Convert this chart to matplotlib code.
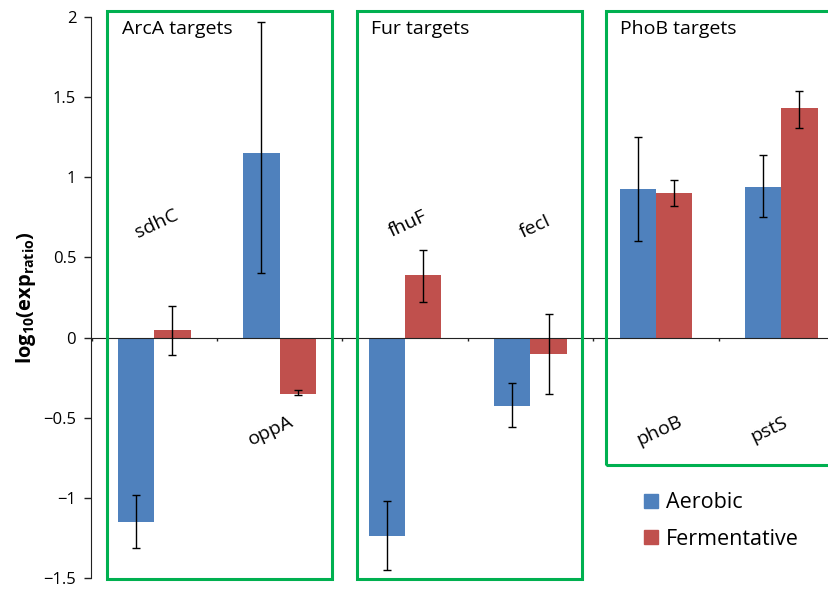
import matplotlib
matplotlib.use("Agg")
import matplotlib.pyplot as plt
from matplotlib.patches import Rectangle
import numpy as np

genes = ["sdhC", "oppA", "fhuF", "fecI", "phoB", "pstS"]
aerobic = [-1.15, 1.15, -1.24, -0.43, 0.93, 0.94]
aerobic_lo = [-1.31, 0.40, -1.45, -0.56, 0.60, 0.75]
aerobic_hi = [-0.98, 1.97, -1.02, -0.285, 1.25, 1.14]
ferment = [0.05, -0.35, 0.39, -0.10, 0.905, 1.43]
ferment_lo = [-0.11, -0.36, 0.22, -0.355, 0.823, 1.31]
ferment_hi = [0.20, -0.33, 0.545, 0.15, 0.983, 1.54]
groups = ["ArcA targets", "Fur targets", "PhoB targets"]
series = ["Aerobic", "Fermentative"]
yticks = [-1.5, -1, -0.5, 0, 0.5, 1, 1.5, 2]
ytick_labels = ["\u22121.5", "\u22121", "\u22120.5", "0", "0.5", "1", "1.5", "2"]

FONT = "Open Sans"
plt.rcParams["font.family"] = [FONT, "DejaVu Sans"]
plt.rcParams["mathtext.fontset"] = "custom"
plt.rcParams["mathtext.rm"] = FONT
plt.rcParams["mathtext.bf"] = FONT + ":bold"

BLUE = "#4F81BD"
RED = "#C0504D"
GREEN = "#00B050"

fig = plt.figure(figsize=(8.29, 5.90), dpi=100)
W, H = 829, 590
def fx(px):
    return px / W
def fy(py):
    return 1 - py / H

ax = fig.add_axes([fx(91.5), fy(578), fx(844) - fx(91.5), fy(17) - fy(578)])

x = np.arange(len(genes))
bw = 0.29
a = np.array(aerobic); f = np.array(ferment)
a_err = [a - np.array(aerobic_lo), np.array(aerobic_hi) - a]
f_err = [f - np.array(ferment_lo), np.array(ferment_hi) - f]
ax.bar(x - bw / 2, a, bw, color=BLUE, zorder=2, label=series[0])
ax.bar(x + bw / 2, f, bw, color=RED, zorder=2, label=series[1])
ekw = dict(fmt="none", ecolor="black", elinewidth=1.0, capsize=3.2, capthick=1.0, zorder=3)
ax.errorbar(x - bw / 2, a, yerr=a_err, **ekw)
ax.errorbar(x + bw / 2, f, yerr=f_err, **ekw)

ax.set_xlim(-0.5, len(genes) - 0.5)
ax.set_ylim(-1.5, 2)
ax.set_yticks(yticks)
ax.set_yticklabels(ytick_labels, fontsize=12)
ax.spines["top"].set_visible(False)
ax.spines["right"].set_visible(False)
ax.spines["bottom"].set_position(("data", 0))
ax.spines["bottom"].set_color("#222222")
ax.spines["left"].set_color("#222222")
ax.set_xticks(np.arange(len(genes) + 1) - 0.5)
ax.set_xticklabels([])
ax.tick_params(axis="x", direction="out", length=2.5, width=1, color="#222222")
ax.tick_params(axis="y", direction="out", length=5, width=1, color="#222222", pad=6)

ax.set_ylabel(r"$\mathbf{log_{10}(exp_{ratio})}$", fontsize=14.5, labelpad=4)

# gene labels (rotated)
label_pos = [(0.02, 0.71), (-0.07, -0.58), (0.02, 0.71), (0.04, 0.69), (0.03, -0.58), (-0.10, -0.575)]
for i, ((dx, yv), g) in enumerate(zip(label_pos, genes)):
    ax.text(i + dx, yv, g, rotation=25, ha="center", va="center", fontsize=14, zorder=4)

# green group boxes (figure coords)
boxes = [(107.5, 11, 332, 579), (357.5, 11, 582, 579), (606.5, 11, 835, 465)]
title_x = [122, 371, 620]
for (x0, y0, x1, y1), t, tx in zip(boxes, groups, title_x):
    fig.patches.append(Rectangle((fx(x0), fy(y1)), fx(x1) - fx(x0), fy(y0) - fy(y1),
                                 transform=fig.transFigure, fill=False,
                                 edgecolor=GREEN, linewidth=2.2, zorder=5))
    fig.text(fx(tx), fy(29), t, fontsize=14, ha="left", va="center")

# legend
handles = [Rectangle((0, 0), 1, 1, color=BLUE), Rectangle((0, 0), 1, 1, color=RED)]
fig.legend(handles, series, loc="center left", bbox_to_anchor=(fx(625), fy(521)),
           frameon=False, fontsize=15.5, handlelength=0.65, handleheight=0.65,
           handletextpad=0.35, labelspacing=0.7)

fig.savefig("out.png", dpi=100)
